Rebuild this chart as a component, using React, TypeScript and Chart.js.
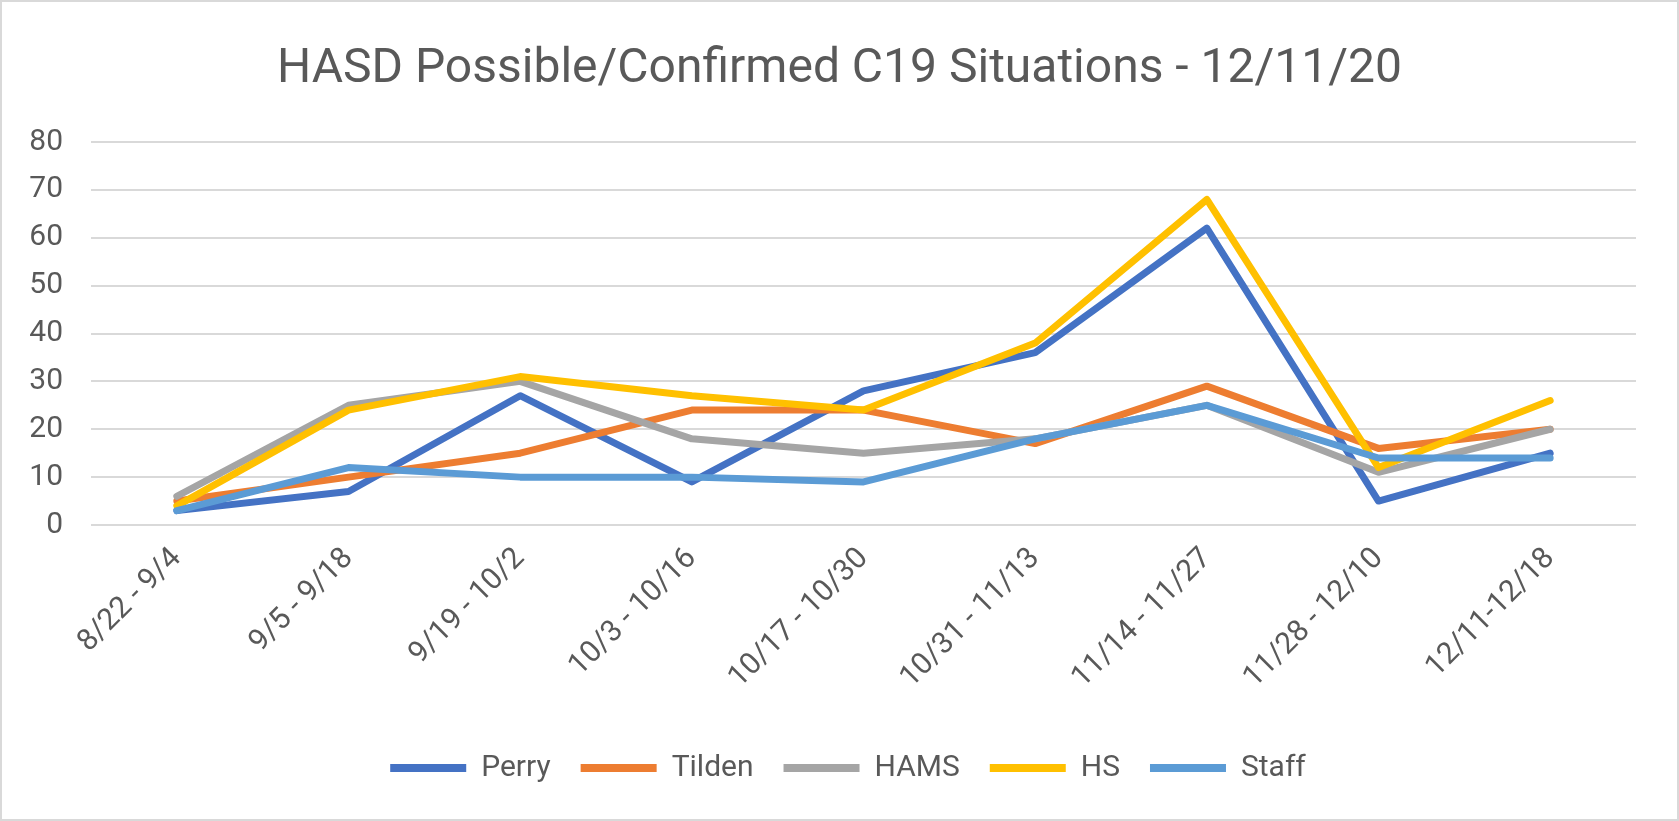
import React, { useEffect, useRef } from "react";
import { Chart, registerables } from "chart.js";

Chart.register(...registerables);

const categories = [
  "8/22 - 9/4",
  "9/5 - 9/18",
  "9/19 - 10/2",
  "10/3 - 10/16",
  "10/17 - 10/30",
  "10/31 - 11/13",
  "11/14 - 11/27",
  "11/28 - 12/10",
  "12/11-12/18",
];

const perry = [3, 7, 27, 9, 28, 36, 62, 5, 15];
const tilden = [5, 10, 15, 24, 24, 17, 29, 16, 20];
const hams = [6, 25, 30, 18, 15, 18, 25, 11, 20];
const hs = [4, 24, 31, 27, 24, 38, 68, 12, 26];
const staff = [3, 12, 10, 10, 9, 18, 25, 14, 14];

const seriesNames = ["Perry", "Tilden", "HAMS", "HS", "Staff"];
const seriesColors = ["#4472C4", "#ED7D31", "#A5A5A5", "#FFC000", "#5B9BD5"];
const seriesValues = [perry, tilden, hams, hs, staff];

const titleText = "HASD Possible/Confirmed C19 Situations - 12/11/20";
const FONT = "Roboto, 'Open Sans', sans-serif";
const TEXT_COLOR = "#595959";

const chromePlugin = {
  id: "chrome",
  afterLayout(chart: any) {
    const lg = chart.legend;
    if (lg) {
      lg.left += 30;
      lg.right += 30;
    }
  },
  beforeDraw(chart: any) {
    const ctx = chart.ctx;
    ctx.save();
    ctx.fillStyle = "#ffffff";
    ctx.fillRect(0, 0, chart.width, chart.height);
    ctx.restore();
  },
  afterDraw(chart: any) {
    const ctx = chart.ctx;
    ctx.save();
    ctx.fillStyle = TEXT_COLOR;
    ctx.font = `48px ${FONT}`;
    ctx.textAlign = "center";
    ctx.textBaseline = "alphabetic";
    ctx.fillText(titleText, chart.width / 2, 82);
    ctx.strokeStyle = "#d9d9d9";
    ctx.lineWidth = 2;
    ctx.strokeRect(1, 1, chart.width - 2, chart.height - 2);
    ctx.restore();
  },
};

export default function App() {
  const ref = useRef<HTMLCanvasElement | null>(null);

  useEffect(() => {
    const canvas = ref.current;
    if (!canvas) return;
    const chart = new Chart(canvas, {
      type: "line",
      data: {
        labels: categories,
        datasets: seriesNames.map((name, i) => ({
          label: name,
          data: seriesValues[i],
          borderColor: seriesColors[i],
          backgroundColor: seriesColors[i],
          borderWidth: 7,
          pointRadius: 0,
          pointHoverRadius: 0,
          tension: 0,
          fill: false,
          borderJoinStyle: "round" as const,
          borderCapStyle: "round" as const,
          order: seriesNames.length - i,
        })),
      },
      options: {
        responsive: false,
        animation: false,
        devicePixelRatio: 1,
        layout: { padding: { top: 142, left: 0, right: 43, bottom: 28 } },
        plugins: {
          title: { display: false },
          tooltip: { enabled: false },
          legend: {
            display: true,
            position: "bottom",
            labels: {
              boxWidth: 76,
              boxHeight: 8,
              padding: 30,
              color: TEXT_COLOR,
              font: { family: FONT, size: 30 },
              sort: (a: any, b: any) => a.datasetIndex - b.datasetIndex,
              generateLabels: (c: any) => {
                const items = Chart.defaults.plugins.legend.labels.generateLabels(c);
                return items
                  .map((it: any) => ({ ...it, lineWidth: 0 }))
                  .sort((a: any, b: any) => a.datasetIndex - b.datasetIndex);
              },
            },
          },
        },
        scales: {
          x: {
            offset: true,
            grid: { display: false, offset: true },
            border: { display: false },
            ticks: {
              minRotation: 45,
              maxRotation: 45,
              autoSkip: false,
              padding: 8,
              color: TEXT_COLOR,
              font: { family: FONT, size: 30 },
            },
            afterFit: (scale: any) => {
              scale.height = 198;
            },
          },
          y: {
            min: 0,
            max: 80,
            ticks: {
              stepSize: 10,
              padding: 28,
              color: TEXT_COLOR,
              font: { family: FONT, size: 30 },
            },
            grid: { color: "#d9d9d9", lineWidth: 2, drawTicks: false },
            border: { display: false },
            afterFit: (scale: any) => {
              scale.width = 91;
            },
          },
        },
      },
      plugins: [chromePlugin],
    });
    return () => chart.destroy();
  }, []);

  return (
    <div style={{ position: "fixed", left: 0, top: 0, width: 1679, height: 821, background: "#fff" }}>
      <canvas ref={ref} width={1679} height={821} style={{ display: "block", width: 1679, height: 821 }} />
    </div>
  );
}
